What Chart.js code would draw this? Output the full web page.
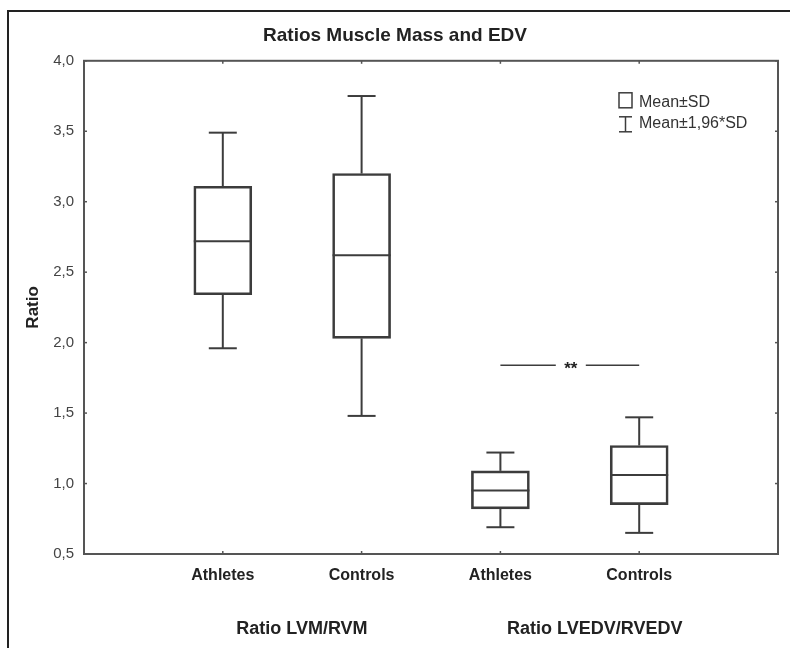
<!DOCTYPE html>
<html>
<head>
<meta charset="utf-8">
<title>Ratios Muscle Mass and EDV</title>
<script src="https://cdn.jsdelivr.net/npm/chart.js@4.4.1/dist/chart.umd.min.js"></script>
<style>
  html, body { margin: 0; padding: 0; background: #fff; }
  #wrap { position: relative; width: 790px; height: 648px; overflow: hidden; }
  #frame { position: absolute; left: 7px; top: 10px; width: 800px; height: 700px; border: 2px solid #222; pointer-events: none; }
  canvas { position: absolute; left: 0; top: 0; }
</style>
</head>
<body>
<div id="wrap">
  <canvas id="chart" width="790" height="648"></canvas>
  <div id="frame"></div>
</div>
<script>
// categories along the x axis (positions 1..4) and their groups
const categories = ['Athletes', 'Controls', 'Athletes', 'Controls'];
const groups = ['Ratio LVM/RVM', 'Ratio LVEDV/RVEDV'];
const groupCenters = [1.57, 3.68];

// mean, box = Mean±SD, whiskers = Mean±1,96*SD
const means  = [2.72, 2.62, 0.95, 1.06];
const sdLow  = [2.34, 2.03, 0.82, 0.85];
const sdHigh = [3.11, 3.20, 1.09, 1.27];
const ciLow  = [1.96, 1.48, 0.69, 0.65];
const ciHigh = [3.49, 3.75, 1.22, 1.47];

// significance bracket between the two LVEDV/RVEDV groups
const sigPair = [3, 4];
const sigLevel = 1.84;
const sigLabel = '**';

const legendLabels = ['Mean±SD', 'Mean±1,96*SD'];

const FONT = '"Liberation Sans", Arial, sans-serif';
const LINE = '#3c3c3c';
const TEXT = '#222';

function seg(ctx, x1, y1, x2, y2) {
  ctx.beginPath();
  ctx.moveTo(x1, y1);
  ctx.lineTo(x2, y2);
  ctx.stroke();
}

// mean lines, whiskers, frame, significance mark and the legend
const boxPlotExtras = {
  id: 'boxPlotExtras',
  afterDatasetsDraw(chart) {
    const { ctx, chartArea: a, scales: { x, y } } = chart;
    const meta = chart.getDatasetMeta(0);
    ctx.save();
    ctx.strokeStyle = LINE;
    ctx.lineWidth = 2;

    meta.data.forEach((bar, i) => {
      const cx = bar.x;
      const half = bar.width / 2;
      const cap = 14;
      const ym = y.getPixelForValue(means[i]);
      seg(ctx, cx - half, ym, cx + half, ym);
      const yTop = y.getPixelForValue(ciHigh[i]);
      const yBot = y.getPixelForValue(ciLow[i]);
      seg(ctx, cx, y.getPixelForValue(sdHigh[i]), cx, yTop);
      seg(ctx, cx - cap, yTop, cx + cap, yTop);
      seg(ctx, cx, y.getPixelForValue(sdLow[i]), cx, yBot);
      seg(ctx, cx - cap, yBot, cx + cap, yBot);
    });

    // plot frame with small inward ticks
    ctx.strokeStyle = '#555';
    ctx.strokeRect(a.left, a.top, a.width, a.height);
    ctx.lineWidth = 1.5;
    y.ticks.forEach(t => {
      const py = y.getPixelForValue(t.value);
      seg(ctx, a.left, py, a.left + 3, py);
      seg(ctx, a.right - 3, py, a.right, py);
    });
    categories.forEach((c, i) => {
      const px = x.getPixelForValue(i + 1);
      seg(ctx, px, a.top, px, a.top + 3);
      seg(ctx, px, a.bottom - 3, px, a.bottom);
    });

    // significance line
    ctx.strokeStyle = LINE;
    ctx.lineWidth = 1.5;
    const sx1 = x.getPixelForValue(sigPair[0]);
    const sx2 = x.getPixelForValue(sigPair[1]);
    const sy = y.getPixelForValue(sigLevel);
    const mid = (sx1 + sx2) / 2;
    seg(ctx, sx1, sy, mid - 14, sy);
    seg(ctx, mid + 16, sy, sx2, sy);
    ctx.fillStyle = TEXT;
    ctx.font = 'bold 17px ' + FONT;
    ctx.textAlign = 'center';
    ctx.textBaseline = 'middle';
    ctx.fillText(sigLabel, mid + 1, sy + 4);

    // legend
    const lx = a.right - 159;
    const ly = a.top + 32;
    ctx.strokeStyle = LINE;
    ctx.lineWidth = 1.5;
    ctx.strokeRect(lx, ly, 13, 15);
    seg(ctx, lx + 6.5, ly + 24, lx + 6.5, ly + 39);
    seg(ctx, lx, ly + 24, lx + 13, ly + 24);
    seg(ctx, lx, ly + 39, lx + 13, ly + 39);
    ctx.font = '16px ' + FONT;
    ctx.textAlign = 'left';
    ctx.fillStyle = '#333';
    ctx.fillText(legendLabels[0], lx + 20, ly + 10);
    ctx.fillText(legendLabels[1], lx + 20, ly + 31);
    ctx.restore();
  }
};

const ctx = document.getElementById('chart').getContext('2d');
new Chart(ctx, {
  type: 'bar',
  data: {
    datasets: [{
      data: categories.map((c, i) => ({ x: i + 1, y: [sdLow[i], sdHigh[i]] })),
      backgroundColor: 'rgba(255,255,255,0)',
      borderColor: LINE,
      borderWidth: 2,
      borderSkipped: false,
      barThickness: 58
    }]
  },
  options: {
    responsive: false,
    animation: false,
    layout: { padding: { left: 12, right: 12, top: 0, bottom: 0 } },
    plugins: {
      legend: { display: false },
      tooltip: { enabled: false },
      title: {
        display: true,
        text: 'Ratios Muscle Mass and EDV',
        color: TEXT,
        font: { family: FONT, size: 19, weight: 'bold' },
        padding: { top: 24, bottom: 14 }
      }
    },
    scales: {
      x: {
        type: 'linear',
        min: 0,
        max: 5,
        offset: false,
        weight: 0,
        afterFit: s => { s.height = 40; },
        grid: { display: false },
        border: { display: false },
        ticks: {
          stepSize: 1,
          padding: 4,
          maxRotation: 0,
          color: TEXT,
          font: { family: FONT, size: 16, weight: 'bold' },
          callback: v => categories[v - 1] || ''
        }
      },
      x2: {
        type: 'linear',
        position: 'bottom',
        min: 0,
        max: 5,
        offset: false,
        weight: 1,
        afterFit: s => { s.height = 54; },
        afterBuildTicks: s => { s.ticks = groupCenters.map(v => ({ value: v })); },
        grid: { display: false },
        border: { display: false },
        ticks: {
          padding: 16,
          maxRotation: 0,
          autoSkip: false,
          color: TEXT,
          font: { family: FONT, size: 18, weight: 'bold' },
          callback: (v, i) => groups[i]
        }
      },
      y: {
        type: 'linear',
        min: 0.5,
        max: 4,
        afterFit: s => { s.width = 72; },
        grid: { display: false },
        border: { display: false },
        ticks: {
          stepSize: 0.5,
          padding: 2,
          color: '#444',
          font: { family: FONT, size: 15 },
          callback: v => v.toFixed(1).replace('.', ',')
        },
        title: {
          display: true,
          text: 'Ratio',
          color: TEXT,
          font: { family: FONT, size: 17, weight: 'bold' },
          padding: { top: 11 }
        }
      }
    }
  },
  plugins: [boxPlotExtras]
});
</script>
</body>
</html>
